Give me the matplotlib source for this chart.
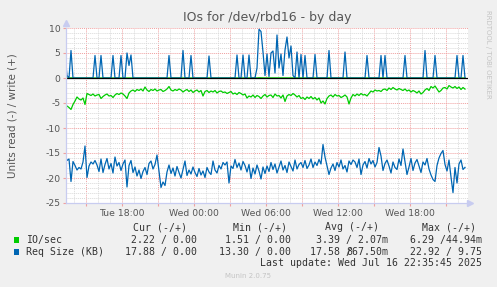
import numpy as np
import matplotlib
matplotlib.use("Agg")
import matplotlib.pyplot as plt
from matplotlib.patches import Rectangle

plt.rcParams['axes.unicode_minus'] = False
plt.rcParams['font.family'] = 'DejaVu Sans'

# samples every 10 minutes, Tue 13:15 -> Wed 22:35 (hours counted from Tue 00:00)
start_hour = 13.25
step_hour = 1 / 6

# IO/sec, read side (drawn negative)
io_read = [
    5.7, 5.6, 5.9, 6.29, 5.3, 4.6, 3.8, 4.2, 4.4, 4.0,
    5.3, 3.1, 3.3, 3.5, 3.2, 3.6, 3.4, 3.3, 4.1, 3.7,
    3.4, 3.2, 3.6, 3.5, 3.9, 3.4, 3.1, 3.3, 3.0, 3.2,
    3.6, 4.1, 3.0, 2.6, 2.4, 2.7, 2.3, 2.5, 2.2, 2.6,
    1.8, 2.4, 2.7, 2.3, 2.5, 2.2, 2.6, 2.4, 2.3, 2.7,
    2.5, 2.2, 1.7, 2.4, 2.6, 2.3, 2.5, 2.2, 2.4, 2.8,
    2.5, 2.3, 2.7, 2.4, 2.9, 2.6, 2.4, 2.8, 2.5, 3.6,
    2.7, 2.5, 2.9, 2.6, 2.8, 2.5, 3.0, 2.7, 2.6, 2.9,
    2.8, 3.1, 2.9, 2.7, 3.2, 3.0, 3.3, 2.9, 3.1, 3.4,
    3.2, 4.0, 3.6, 3.8, 3.4, 3.9, 3.5, 3.7, 4.1, 3.6,
    3.3, 3.8, 3.5, 3.4, 3.9, 3.2, 3.6, 3.5, 4.0, 3.4,
    4.7, 3.6, 3.3, 3.5, 3.1, 3.4, 3.8, 3.5, 4.1, 3.9,
    4.3, 3.8, 4.1, 3.7, 4.2, 3.9, 4.4, 4.0, 5.0, 4.6,
    5.2, 4.1, 3.6, 3.4, 3.8, 3.3, 3.6, 3.5, 3.9, 3.7,
    3.4, 3.8, 5.2, 4.0, 3.3, 3.6, 3.2, 3.5, 3.1, 3.4,
    3.3, 3.6, 3.1, 2.6, 2.8, 2.4, 2.6, 2.5, 2.7, 2.3,
    2.2, 2.5, 2.0, 2.3, 1.9, 2.2, 2.4, 2.1, 2.3, 2.5,
    2.2, 2.6, 2.4, 2.8, 2.5, 2.7, 3.0, 2.6, 3.2, 2.9,
    2.4, 2.1, 2.5, 1.7, 2.0, 1.6, 2.2, 2.8, 2.5, 2.0,
    1.9, 2.2, 1.51, 1.8, 2.0, 1.7, 2.1, 1.8, 2.3, 1.9,
    2.22,
]

# IO/sec, write side
io_write = [
    0.02, 0.01, 0, 0.03, 0, 0, 0, 0, 0, 0,
    0, 0, 0, 0, 0, 0.01, 0, 0, 0.01, 0,
    0, 0, 0, 0, 0.01, 0, 0, 0, 0.01, 0,
    0, 0.02, 0.01, 0.01, 0, 0, 0, 0, 0, 0,
    0, 0, 0, 0, 0, 0, 0, 0, 0, 0,
    0, 0, 0.01, 0, 0, 0, 0, 0, 0, 0.02,
    0, 0, 0, 0.01, 0, 0, 0, 0, 0, 0,
    0, 0, 0.01, 0, 0, 0, 0, 0, 0, 0,
    0, 0, 0, 0, 0, 0, 0.01, 0, 0, 0.01,
    0, 0, 0.01, 0, 0, 0, 0.01, 0.045, 0.03, 0.02,
    0.01, 0.02, 0.01, 0.02, 0.02, 0.01, 0.03, 0.01, 0.02, 0.01,
    0.02, 0.03, 0.01, 0.02, 0.01, 0, 0.01, 0, 0.01, 0,
    0.01, 0, 0, 0, 0, 0.01, 0, 0, 0, 0,
    0, 0, 0.02, 0, 0, 0, 0, 0, 0, 0,
    0.01, 0, 0, 0, 0, 0, 0, 0, 0, 0,
    0, 0.01, 0, 0, 0, 0, 0, 0, 0.01, 0,
    0.01, 0, 0, 0, 0, 0, 0, 0, 0, 0,
    0.01, 0, 0, 0, 0, 0, 0, 0, 0, 0,
    0.02, 0, 0, 0, 0, 0.01, 0, 0, 0, 0,
    0, 0, 0, 0, 0, 0, 0.01, 0, 0, 0.01,
    0,
]

# Req Size (KB), read side (drawn negative)
req_read = [
    15.4, 16.5, 16.2, 20.7, 16.7, 17.5, 18.4, 17.9, 18.2, 16.8,
    13.6, 19.9, 17.6, 16.8, 17.2, 16.5, 17.4, 18.7, 16.2, 18.9,
    17.3, 16.1, 18.2, 17.1, 19.0, 15.8, 17.6, 16.9, 18.5, 17.2,
    16.4, 21.8, 17.5, 16.5, 18.9, 17.8, 19.6, 18.4, 20.1, 18.7,
    17.9, 19.3, 17.1, 16.6, 18.2, 17.3, 15.4, 18.6, 21.9, 20.8,
    21.5, 18.8, 17.4, 19.1, 18.0, 19.6, 17.7, 18.9, 20.0, 18.3,
    16.6, 19.5, 18.4, 19.2, 17.8, 18.9, 19.7, 18.1, 19.4, 18.6,
    19.9, 17.9, 18.8, 19.3, 16.6, 18.4, 19.0, 17.5, 18.2, 16.9,
    17.4, 16.8, 21.0, 17.6, 18.1, 16.3, 17.9, 17.0, 18.4, 16.7,
    17.5, 18.8, 17.3, 20.1, 18.0, 19.2, 17.4, 18.6, 20.2, 17.8,
    19.1, 17.6, 18.7, 16.9, 18.3, 17.2, 19.0, 17.8, 16.6, 18.4,
    17.5, 18.9, 16.8, 17.7, 18.6, 16.4, 18.2, 17.3, 16.9, 17.9,
    16.5, 18.1, 17.4, 16.2, 17.9, 16.8, 17.5, 16.3, 17.2, 13.3,
    15.8, 17.6, 19.3, 18.0, 17.2, 18.5, 16.9, 17.8, 16.4, 18.2,
    17.5, 18.8, 16.6, 17.3, 16.4, 16.8, 17.9, 16.2, 19.3, 17.4,
    16.7, 18.0, 16.1, 17.2, 16.5, 17.8, 16.9, 13.9, 15.6, 18.5,
    17.1, 16.4, 17.6, 19.0, 16.8, 17.9, 18.3, 16.2, 17.5, 14.2,
    16.7, 19.3, 17.8, 16.1, 18.5, 17.0, 16.3, 17.6, 18.9, 16.8,
    17.4, 16.1, 18.2, 19.4, 20.3, 20.7, 17.5, 16.0, 15.1, 14.5,
    17.3, 18.6, 16.4, 19.8, 22.92, 17.9, 21.0, 17.2, 16.4, 18.3,
    17.88,
]

# Req Size (KB), write side
req_write = [
    4.8, 0.5, 0, 5.5, 0, 0, 0, 0, 0, 0,
    0, 0, 0, 0, 0, 4.5, 0, 0, 4.5, 0,
    0, 0, 0, 0, 4.5, 0, 0, 0, 4.5, 0,
    0, 5.0, 2.5, 4.6, 0, 0, 0, 0, 0, 0,
    0, 0, 0, 0, 0, 0, 0, 0, 0, 0,
    0, 0, 4.5, 0, 0, 0, 0, 0, 0, 5.5,
    0, 0, 0, 4.5, 0, 0, 0, 0, 0, 0,
    0, 0, 4.4, 0, 0, 0, 0, 0, 0, 0,
    0, 0, 0, 0, 0, 0, 4.6, 0, 0, 4.6,
    0, 0, 4.6, 0, 0, 0, 2.0, 9.75, 9.3, 5.2,
    0.5, 4.8, 0.3, 5.0, 5.4, 1.0, 8.6, 2.0, 4.8, 0.5,
    5.6, 8.2, 4.0, 6.4, 0.5, 0, 5.2, 0, 4.7, 0,
    4.5, 0, 0, 0, 0, 4.7, 0, 0, 0, 0,
    0, 0, 5.5, 0, 0, 0, 0, 0, 0, 0,
    5.2, 0, 0, 0, 0, 0, 0, 0, 0, 0,
    0, 4.5, 0, 0, 0, 0, 0, 0, 4.5, 0,
    4.5, 0, 0, 0, 0, 0, 0, 0, 0, 0,
    4.5, 0, 0, 0, 0, 0, 0, 0, 0, 0,
    5.5, 0, 0, 0, 0, 4.5, 0, 0, 0, 0,
    0, 0, 0, 0, 0, 0, 4.5, 0, 0, 4.5,
    0,
]

tick_hours = [18, 24, 30, 36, 42]
tick_labels = ['Tue 18:00', 'Wed 00:00', 'Wed 06:00', 'Wed 12:00', 'Wed 18:00']

series_names = ['IO/sec', 'Req Size (KB)']
series_colors = ['#00CC00', '#0066B3']
cur_vals = ['2.22 / 0.00', '17.88 / 0.00']
min_vals = ['1.51 / 0.00', '13.30 / 0.00']
avg_vals = ['3.39 / 2.07m', '17.58 /867.50m']
max_vals = ['6.29 /44.94m', '22.92 / 9.75']

W, H = 497, 287
def fx(px):
    return px / W
def fy(py):
    return 1 - py / H

hours = start_hour + step_hour * np.arange(len(io_read))

fig = plt.figure(figsize=(W / 100, H / 100), dpi=100, facecolor='#F0F0F0')
ax = fig.add_axes([fx(66), fy(203), (468 - 66) / W, (203 - 28) / H])
ax.set_facecolor('white')

ax.plot(hours, -np.array(io_read), color=series_colors[0], lw=0.9)
ax.plot(hours, io_write, color=series_colors[0], lw=0.9)
ax.plot(hours, -np.array(req_read), color=series_colors[1], lw=0.9)
ax.plot(hours, req_write, color=series_colors[1], lw=0.9)
ax.axhline(0, color='black', lw=0.9)

ax.set_xlim(start_hour + 1 / 12, 46.8333)
ax.set_ylim(-25, 10)

major_x = np.arange(15, 47, 3)
ax.set_xticks(major_x)
ax.set_xticklabels([tick_labels[tick_hours.index(h)] if h in tick_hours else '' for h in major_x])
ax.set_xticks(np.arange(14, 47, 1), minor=True)
ax.set_yticks(np.arange(-25, 11, 5))
ax.set_yticks(np.arange(-25, 11, 1), minor=True)

ax.grid(which='major', color='#F0A0A0', lw=0.7, ls=(0, (1, 1)))
ax.grid(which='minor', color='#DADADA', lw=0.7, ls=(0, (1, 1)))
ax.set_axisbelow(True)
ax.tick_params(which='major', length=2, color='#F0A0A0', labelsize=6.7, labelcolor='#555555', pad=2)
ax.tick_params(which='minor', length=0)

for s in ['top', 'right']:
    ax.spines[s].set_visible(False)
for s in ['left', 'bottom']:
    ax.spines[s].set_color('#C8CCF0')
    ax.spines[s].set_linewidth(0.9)
ax.plot([0], [1.03], marker='^', ms=4, color='#C8CCF0', transform=ax.transAxes, clip_on=False)
ax.plot([1.005], [0], marker='>', ms=4, color='#C8CCF0', transform=ax.transAxes, clip_on=False)

fig.text(fx(267), fy(18), 'IOs for /dev/rbd16 - by day', ha='center', va='center',
         fontsize=9, color='#555555')
fig.text(fx(13), fy(116), 'Units read (-) / write (+)', rotation=90, ha='center', va='center',
         fontsize=7.5, color='#555555')
fig.text(fx(488), fy(54), 'RRDTOOL / TOBI OETIKER', rotation=270, ha='center', va='center',
         fontsize=5, color='#C4C4C4')

mono = dict(family='DejaVu Sans Mono', fontsize=7.1, color='#333333', va='center')
fig.text(fx(187), fy(227), 'Cur (-/+)', ha='right', **mono)
fig.text(fx(287), fy(227), 'Min (-/+)', ha='right', **mono)
fig.text(fx(379), fy(227), 'Avg (-/+)', ha='right', **mono)
fig.text(fx(476), fy(227), 'Max (-/+)', ha='right', **mono)

for k, name in enumerate(series_names):
    y = 240 + 12 * k
    fig.add_artist(Rectangle((fx(14), fy(y + 3)), 5 / W, 6 / H, transform=fig.transFigure,
                             facecolor=series_colors[k], edgecolor='none'))
    fig.text(fx(26), fy(y), name, ha='left', **mono)
    fig.text(fx(197), fy(y), cur_vals[k], ha='right', **mono)
    fig.text(fx(291), fy(y), min_vals[k], ha='right', **mono)
    if k == 1:
        # rrdtool squeezes this column, the slash lands on top of the 8
        left, right = avg_vals[k].split('/')
        fig.text(fx(388 - 6 * len(right) + 6), fy(y), left + '/', ha='right', **mono)
        fig.text(fx(388), fy(y), right, ha='right', **mono)
    else:
        fig.text(fx(388), fy(y), avg_vals[k], ha='right', **mono)
    fig.text(fx(482), fy(y), max_vals[k], ha='right', **mono)

fig.text(fx(482), fy(263), 'Last update: Wed Jul 16 22:35:45 2025', ha='right', **mono)
fig.text(fx(248), fy(276), 'Munin 2.0.75', ha='center', va='center', fontsize=5, color='#C4C4C4')

fig.savefig('out.png', dpi=100, facecolor=fig.get_facecolor())
